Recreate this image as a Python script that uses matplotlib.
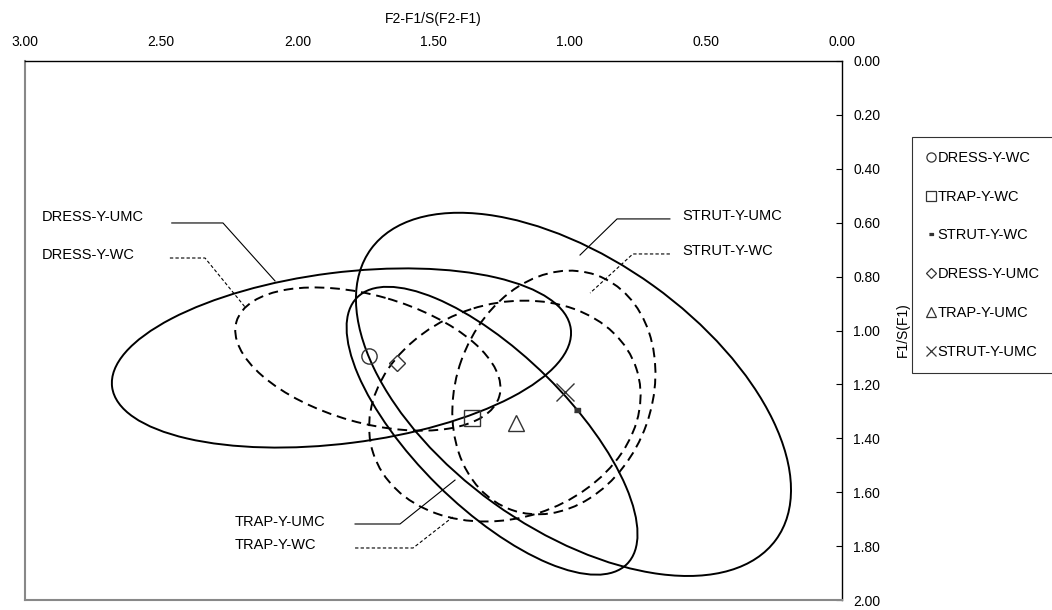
import numpy as np
import matplotlib.pyplot as plt
from matplotlib.patches import Ellipse
from matplotlib.lines import Line2D

plt.rcParams['font.family'] = ['Liberation Sans', 'DejaVu Sans']
plt.rcParams['font.size'] = 10

# mean points (F2-F1/S(F2-F1), F1/S(F1))
names = ["DRESS-Y-WC", "TRAP-Y-WC", "STRUT-Y-WC", "DRESS-Y-UMC", "TRAP-Y-UMC", "STRUT-Y-UMC"]
mean_x = [1.737, 1.359, 0.973, 1.634, 1.197, 1.017]
mean_y = [1.095, 1.325, 1.295, 1.120, 1.343, 1.228]

# ellipses: centre, width, height (data units), tilt in degrees
ell_names = ["DRESS-Y-UMC", "DRESS-Y-WC", "STRUT-Y-UMC", "TRAP-Y-UMC", "STRUT-Y-WC", "TRAP-Y-WC"]
ell_cx = [1.838, 1.741, 0.986, 1.285, 1.058, 1.238]
ell_cy = [1.102, 1.106, 1.237, 1.372, 1.230, 1.299]
ell_w = [1.698, 1.004, 1.837, 1.400, 0.925, 1.016]
ell_h = [0.634, 0.472, 0.997, 0.568, 0.720, 0.796]
ell_ang = [7.3, -16.0, -36.0, -45.0, 70.4, 18.1]

x_ticks = [3.0, 2.5, 2.0, 1.5, 1.0, 0.5, 0.0]
y_ticks = [0.0, 0.2, 0.4, 0.6, 0.8, 1.0, 1.2, 1.4, 1.6, 1.8, 2.0]

fig = plt.figure(figsize=(10.52, 6.10), dpi=100)
ax = fig.add_axes([25 / 1052, 10 / 610, 817 / 1052, 539 / 610])
ax.set_xlim(3, 0)
ax.set_ylim(2, 0)

for cx, cy, w, h, a, n in zip(ell_cx, ell_cy, ell_w, ell_h, ell_ang, ell_names):
    ls = '-' if n.endswith('UMC') else (0, (5, 3))
    ax.add_patch(Ellipse((cx, cy), w, h, angle=a, fill=False, ec='black', lw=1.4, ls=ls))

mk = {
    "DRESS-Y-WC": dict(marker='o', ms=11, mfc='none'),
    "TRAP-Y-WC": dict(marker='s', ms=11, mfc='none'),
    "STRUT-Y-WC": dict(marker=[(-1, -0.6), (1, -0.6), (1, 0.6), (-1, 0.6)], ms=5, mfc='#333333'),
    "DRESS-Y-UMC": dict(marker='D', ms=8, mfc='none'),
    "TRAP-Y-UMC": dict(marker='^', ms=12, mfc='none'),
    "STRUT-Y-UMC": dict(marker='x', ms=13, mfc='none'),
}
handles = []
for n, x, y in zip(names, mean_x, mean_y):
    ax.plot(x, y, ls='none', mec='#333333', mew=1.0, **mk[n])
    st = dict(mk[n])
    st['ms'] = st['ms'] * 0.6
    handles.append(Line2D([], [], ls='none', mec='#333333', mew=0.9, **st))

# leader labels
labels = [
    ("STRUT-Y-UMC", 0.588, 0.575, [0.632, 0.826, 0.962], [0.586, 0.586, 0.720], '-'),
    ("STRUT-Y-WC", 0.588, 0.705, [0.632, 0.768, 0.925], [0.716, 0.716, 0.861], (0, (3, 2))),
    ("DRESS-Y-UMC", 2.938, 0.579, [2.461, 2.273, 2.082], [0.601, 0.601, 0.816], '-'),
    ("DRESS-Y-WC", 2.938, 0.720, [2.468, 2.339, 2.192], [0.731, 0.731, 0.913], (0, (3, 2))),
    ("TRAP-Y-UMC", 2.229, 1.711, [1.788, 1.623, 1.421], [1.718, 1.718, 1.555], '-'),
    ("TRAP-Y-WC", 2.229, 1.796, [1.788, 1.575, 1.429], [1.807, 1.807, 1.692], (0, (3, 2))),
]
for txt, tx, ty, lx, ly, ls in labels:
    ax.text(tx, ty, txt, ha='left', va='center', fontsize=10.5)
    ax.plot(lx, ly, color='black', lw=0.8, ls=ls)

ax.xaxis.tick_top()
ax.yaxis.tick_right()
ax.set_xticks(x_ticks)
ax.set_yticks(y_ticks)
ax.set_xticklabels([f"{v:.2f}" for v in x_ticks])
ax.set_yticklabels([f"{v:.2f}" for v in y_ticks])
ax.tick_params(axis='x', length=0, pad=9, labelsize=10)
ax.tick_params(axis='y', direction='in', length=4, pad=8, labelsize=10)
for s in ['left', 'bottom']:
    ax.spines[s].set_color('#888888')
    ax.spines[s].set_linewidth(1.5)
for s in ['top', 'right']:
    ax.spines[s].set_color('black')
    ax.spines[s].set_linewidth(1.0)

fig.text(433 / 1052, 1 - 19 / 610, "F2-F1/S(F2-F1)", ha='center', va='center', fontsize=10)
fig.text(903 / 1052, 1 - 330 / 610, "F1/S(F1)", ha='center', va='center', rotation=90, fontsize=10)

leg = fig.legend(handles, names, loc='upper left', bbox_to_anchor=(912 / 1052, 1 - 137 / 610),
                 frameon=True, fancybox=False, edgecolor='black', labelspacing=1.7,
                 handlelength=0.7, handletextpad=0.1, borderpad=0.95, borderaxespad=0, fontsize=10.5)
leg.get_frame().set_linewidth(0.8)

fig.savefig("out.png", dpi=100)
